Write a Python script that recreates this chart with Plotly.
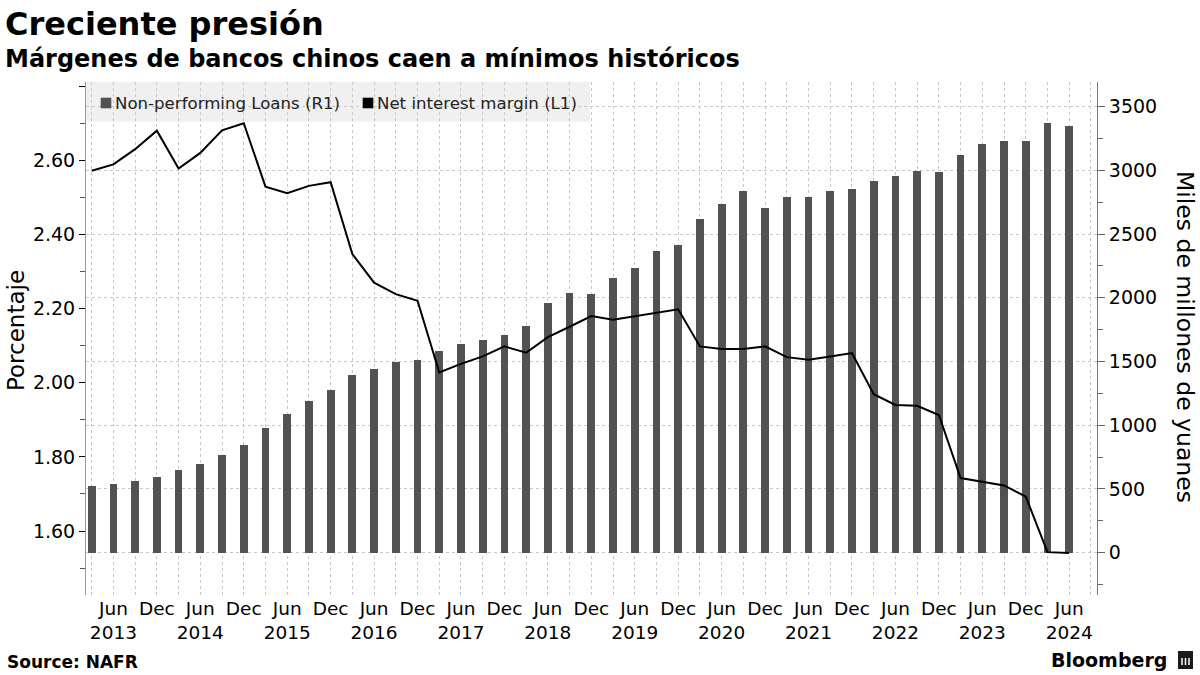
import plotly.graph_objects as go

# ---------------- data ----------------
quarters = [
    "2013Q1", "2013Q2", "2013Q3", "2013Q4",
    "2014Q1", "2014Q2", "2014Q3", "2014Q4",
    "2015Q1", "2015Q2", "2015Q3", "2015Q4",
    "2016Q1", "2016Q2", "2016Q3", "2016Q4",
    "2017Q1", "2017Q2", "2017Q3", "2017Q4",
    "2018Q1", "2018Q2", "2018Q3", "2018Q4",
    "2019Q1", "2019Q2", "2019Q3", "2019Q4",
    "2020Q1", "2020Q2", "2020Q3", "2020Q4",
    "2021Q1", "2021Q2", "2021Q3", "2021Q4",
    "2022Q1", "2022Q2", "2022Q3", "2022Q4",
    "2023Q1", "2023Q2", "2023Q3", "2023Q4",
    "2024Q1", "2024Q2",
]

# Non-performing loans, miles de millones de yuanes (right axis)
npl_loans = [
    523, 539, 563, 594, 649, 696, 767, 846,
    979, 1089, 1191, 1277, 1395, 1442, 1497, 1513,
    1583, 1638, 1669, 1708, 1779, 1959, 2038, 2031,
    2156, 2235, 2367, 2415, 2618, 2736, 2838, 2704,
    2791, 2791, 2838, 2854, 2917, 2956, 2995, 2987,
    3121, 3207, 3230, 3230, 3372, 3349,
]

# Net interest margin, porcentaje (left axis)
net_interest_margin = [
    2.572, 2.589, 2.630, 2.680, 2.578, 2.620, 2.681, 2.700,
    2.529, 2.511, 2.531, 2.541, 2.347, 2.270, 2.239, 2.221,
    2.028, 2.051, 2.071, 2.098, 2.081, 2.123, 2.151, 2.180,
    2.170, 2.180, 2.190, 2.198, 2.098, 2.091, 2.091, 2.098,
    2.069, 2.062, 2.071, 2.080, 1.969, 1.940, 1.938, 1.913,
    1.743, 1.734, 1.723, 1.693, 1.543, 1.541,
]

tick_quarters = [
    "2013Q2", "2013Q4", "2014Q2", "2014Q4", "2015Q2", "2015Q4",
    "2016Q2", "2016Q4", "2017Q2", "2017Q4", "2018Q2", "2018Q4",
    "2019Q2", "2019Q4", "2020Q2", "2020Q4", "2021Q2", "2021Q4",
    "2022Q2", "2022Q4", "2023Q2", "2023Q4", "2024Q2",
]
tick_labels = [
    "Jun<br>2013", "Dec", "Jun<br>2014", "Dec", "Jun<br>2015", "Dec",
    "Jun<br>2016", "Dec", "Jun<br>2017", "Dec", "Jun<br>2018", "Dec",
    "Jun<br>2019", "Dec", "Jun<br>2020", "Dec", "Jun<br>2021", "Dec",
    "Jun<br>2022", "Dec", "Jun<br>2023", "Dec", "Jun<br>2024",
]

left_ticks = [1.6, 1.8, 2.0, 2.2, 2.4, 2.6, 2.8]
left_tick_labels = ["1.60", "1.80", "2.00", "2.20", "2.40", "2.60", ""]
right_ticks = [0, 500, 1000, 1500, 2000, 2500, 3000, 3500]

# ---------------- layout helpers ----------------
W, H = 1200, 675
L, R, T, B = 86, 1097, 82, 595


def px(x):
    return (x - L) / (R - L)


def py(y):
    return (B - y) / (B - T)


FONT = "DejaVu Sans"
BAR_COLOR = "#525252"
GRID = "#c8c8c8"
DASH = "3px,3px"

xs = list(range(len(quarters)))
tickvals = [quarters.index(q) for q in tick_quarters]

fig = go.Figure()
fig.add_trace(go.Bar(
    x=xs, y=npl_loans, yaxis="y", marker=dict(color=BAR_COLOR, line=dict(width=0)),
    width=0.36, name="Non-performing Loans (R1)", customdata=quarters,
    hovertemplate="%{customdata}: %{y}<extra></extra>", showlegend=False,
))
fig.add_trace(go.Scatter(
    x=xs, y=net_interest_margin, yaxis="y2", mode="lines",
    line=dict(color="black", width=2), name="Net interest margin (L1)",
    customdata=quarters, hovertemplate="%{customdata}: %{y:.2f}<extra></extra>",
    showlegend=False,
))

fig.update_layout(
    width=W, height=H,
    margin=dict(l=L, r=W - R, t=T, b=H - B, pad=0),
    paper_bgcolor="white", plot_bgcolor="white",
    font=dict(family=FONT, color="black"),
    showlegend=False,
    bargap=0,
    xaxis=dict(
        range=[-0.262, 46.28], tickmode="array", tickvals=tickvals, ticktext=tick_labels,
        ticks="", showline=False, zeroline=False, tickangle=0,
        showgrid=True, gridcolor=GRID, griddash=DASH, gridwidth=1,
        tickfont=dict(size=18.5, family=FONT, color="black"),
        minor=dict(tickmode="linear", tick0=0, dtick=1, showgrid=True,
                   gridcolor=GRID, griddash=DASH, gridwidth=1),
        fixedrange=True,
    ),
    yaxis=dict(
        side="right", range=[-332.2, 3693.6], tickmode="array", tickvals=right_ticks,
        ticks="outside", ticklen=7, tickcolor="#666666", tickwidth=1,
        showline=True, linecolor="#777777", linewidth=1,
        showgrid=True, gridcolor=GRID, griddash=DASH, gridwidth=1,
        zeroline=False, tickfont=dict(size=19, family=FONT, color="black"),
        minor=dict(tickmode="linear", tick0=0, dtick=250, ticks="outside",
                   ticklen=5, tickcolor="#666666", showgrid=False),
        fixedrange=True,
    ),
    yaxis2=dict(
        overlaying="y", side="left", range=[1.4274, 2.8112], tickmode="array",
        tickvals=left_ticks, ticktext=left_tick_labels,
        ticks="outside", ticklen=6, tickcolor="black", tickwidth=1,
        showline=True, linecolor="#999999", linewidth=1,
        showgrid=False, zeroline=False,
        tickfont=dict(size=19, family=FONT, color="black"),
        minor=dict(tickmode="linear", tick0=1.5, dtick=0.1, ticks="outside",
                   ticklen=5, tickcolor="#555555", showgrid=False),
        fixedrange=True,
    ),
)

shapes = [
    # legend background
    dict(type="rect", xref="paper", yref="paper", x0=px(86), x1=px(590),
         y0=py(121.7), y1=py(82), fillcolor="#f0f0f0", line=dict(width=0), layer="below"),
    dict(type="rect", xref="paper", yref="paper", x0=px(100.7), x1=px(111.3),
         y0=py(108.3), y1=py(97.7), fillcolor=BAR_COLOR, line=dict(width=0)),
    dict(type="rect", xref="paper", yref="paper", x0=px(362.7), x1=px(373.3),
         y0=py(108.3), y1=py(97.7), fillcolor="black", line=dict(width=0)),
    # Bloomberg icon
    dict(type="rect", xref="paper", yref="paper", x0=px(1178), x1=px(1193),
         y0=py(669), y1=py(651), fillcolor="#1a1a1a", line=dict(width=0)),
]
for bx in (1182, 1185.5, 1189):
    shapes.append(dict(type="line", xref="paper", yref="paper", x0=px(bx), x1=px(bx),
                       y0=py(665), y1=py(658), line=dict(color="white", width=1.5)))

annotations = [
    dict(text="<b>Creciente presión</b>", x=px(3), y=py(24), xanchor="left", yanchor="middle",
         font=dict(size=32, family=FONT, color="black")),
    dict(text="<b>Márgenes de bancos chinos caen a mínimos históricos</b>", x=px(3), y=py(59),
         xanchor="left", yanchor="middle", font=dict(size=24, family=FONT, color="black")),
    dict(text="Non-performing Loans (R1)", x=px(113), y=py(103), xanchor="left",
         yanchor="middle", font=dict(size=16.6, family=FONT, color="#222222")),
    dict(text="Net interest margin (L1)", x=px(375), y=py(103), xanchor="left",
         yanchor="middle", font=dict(size=16.6, family=FONT, color="#222222")),
    dict(text="Porcentaje", x=px(16), y=py(331), xanchor="center", yanchor="middle",
         textangle=-90, font=dict(size=23, family=FONT, color="black")),
    dict(text="Miles de millones de yuanes", x=px(1185), y=py(337), xanchor="center",
         yanchor="middle", textangle=90, font=dict(size=23.5, family=FONT, color="black")),
    dict(text="<b>Source: NAFR</b>", x=px(5), y=py(662), xanchor="left", yanchor="middle",
         font=dict(size=17, family=FONT, color="black")),
    dict(text="<b>Bloomberg</b>", x=px(1169), y=py(660), xanchor="right", yanchor="middle",
         font=dict(size=19, family=FONT, color="black")),
]
for a in annotations:
    a.update(xref="paper", yref="paper", showarrow=False)

fig.update_layout(shapes=shapes, annotations=annotations)

fig.write_html(
    "out.html",
    config={"displayModeBar": False},
    post_script="document.body.style.margin='0';document.body.style.overflow='hidden';",
)
